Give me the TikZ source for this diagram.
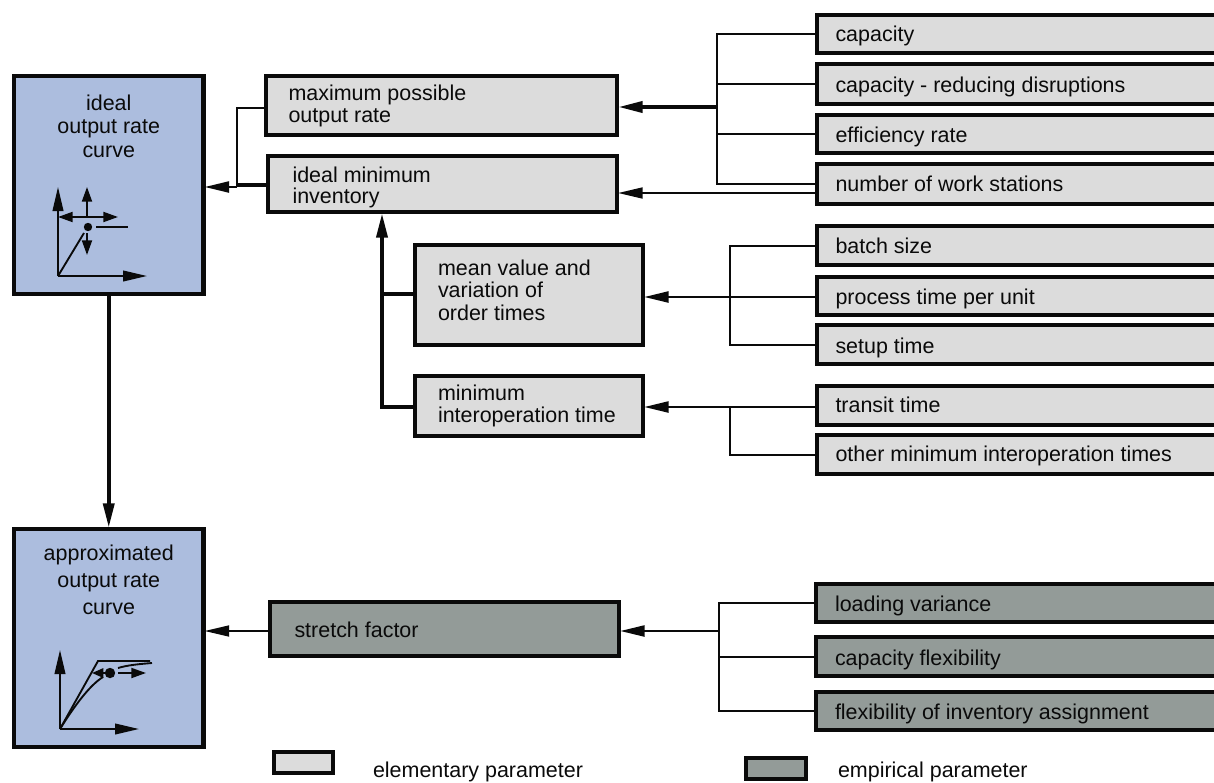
\documentclass[tikz,border=0pt]{standalone}
\usepackage{fontspec}
\setmainfont{Liberation Sans}
\usetikzlibrary{arrows.meta,calc}
\definecolor{idealblue}{HTML}{ACBDDE}
\definecolor{elemgray}{HTML}{DCDCDC}
\definecolor{empgray}{HTML}{939B98}
\definecolor{inkblack}{HTML}{0A0A0A}
% text block: width(px), space above(px), space below(px), alignment, text
\newcommand\tb[5]{\vbox{\hsize=\dimexpr #1pt*3/4\relax\parindent=0pt #4
  \vskip\dimexpr (#2pt+8pt)*3/4\relax
  \strut #5\strut\par\vskip\dimexpr #3pt*3/4\relax}}
\tikzset{
  pos/.style n args={4}{minimum width={(#3-#1)*0.75pt},minimum height={(#4-#2)*0.75pt},
     at={({(#1+#3)/2},{(#2+#4)/2})}},
  basebox/.style={draw=inkblack,rectangle,inner sep=0pt,outer sep=0pt,text=inkblack,
     font=\fontsize{16.1}{17.5}\selectfont},
  curvebox/.style={basebox,fill=idealblue,line width=3.6pt},
  elembox/.style={basebox,fill=elemgray,line width=3pt},
  empbox/.style={basebox,fill=empgray,line width=3pt},
  lbl/.style={inner sep=0pt,outer sep=0pt,text=inkblack,anchor=base west,
     font=\fontsize{16.1}{17.5}\selectfont},
  thinline/.style={draw=inkblack,line width=1.5pt},
  midline/.style={draw=inkblack,line width=2pt},
  heavyline/.style={draw=inkblack,line width=3pt},
  bigtip/.style={-{Triangle[length=18.5pt,width=8.2pt]},shorten >=0.8pt},
  icon/.style={draw=inkblack,line width=1.4pt},
  iconbig/.style={-{Triangle[length=18pt,width=8pt]}},
  iconsmall/.style={-{Triangle[length=11pt,width=7.5pt]}},
  icontiny/.style={-{Triangle[length=8.5pt,width=7pt]}},
}
\begin{document}
\begin{tikzpicture}[x=0.75pt,y=-0.75pt]
\useasboundingbox (0,0) rectangle (1214,782);
\clip (0,0) rectangle (1214,782);
% curve boxes
\node[curvebox,pos={14}{76}{203.5}{294}] (ideal) {\tb{189}{0}{120}{\centering}{ideal\\output rate\\curve}};
\node[curvebox,pos={14}{529}{203.5}{747}] (approx) {\tb{189}{0}{118}{\centering}{approximated\\[2.6pt]output rate\\[2.6pt]curve}};
% middle boxes
\node[elembox,pos={266}{76}{617}{135}] (maxrate) {\tb{306}{0}{6}{\raggedright}{maximum possible\\[-1pt]output rate}};
\node[elembox,pos={268}{156}{617}{212}] (minv) {\tb{300}{0}{0}{\raggedright}{ideal minimum\\[-1.5pt]inventory}};
\node[elembox,pos={415}{245}{643}{345}] (meanv) {\tb{182}{0}{12}{\raggedright}{mean value and\\[-0.5pt]variation of\\[-0.5pt]order times}};
\node[elembox,pos={415}{377}{643}{435}] (minop) {\tb{182}{0}{7}{\raggedright}{minimum\\[-1pt]interoperation time}};
\node[empbox,pos={270}{602}{619}{656}] (stretch) {\tb{300}{0}{0}{\raggedright}{stretch factor}};
% right boxes
\node[elembox,pos={817}{15}{1240}{53}] (cap) {\tb{386}{0}{2}{\raggedright}{capacity}};
\node[elembox,pos={817}{64}{1240}{104}] (capred) {\tb{386}{0}{0}{\raggedright}{capacity - reducing disruptions}};
\node[elembox,pos={817}{115}{1240}{153}] (eff) {\tb{386}{0}{0}{\raggedright}{efficiency rate}};
\node[elembox,pos={817}{164}{1240}{204}] (num) {\tb{386}{0}{2}{\raggedright}{number of work stations}};
\node[elembox,pos={817}{226}{1240}{265}] (batch) {\tb{386}{0}{2}{\raggedright}{batch size}};
\node[elembox,pos={817}{277}{1240}{315}] (proc) {\tb{386}{0}{0}{\raggedright}{process time per unit}};
\node[elembox,pos={817}{325}{1240}{364}] (setup) {\tb{386}{0}{0}{\raggedright}{setup time}};
\node[elembox,pos={817}{386}{1240}{425}] (transit) {\tb{386}{0}{4}{\raggedright}{transit time}};
\node[elembox,pos={817}{435}{1240}{474}] (other) {\tb{386}{0}{4}{\raggedright}{other minimum interoperation times}};
\node[empbox,pos={816}{584}{1240}{622}] (load) {\tb{386}{0}{0}{\raggedright}{loading variance}};
\node[empbox,pos={816}{637}{1240}{676}] (capflex) {\tb{386}{0}{0}{\raggedright}{capacity flexibility}};
\node[empbox,pos={816}{692}{1240}{730}] (invflex) {\tb{386}{0}{0}{\raggedright}{flexibility of inventory assignment}};
% legend
\node[elembox,pos={274}{752}{333}{773}] (legA) {};
\node[empbox,pos={746}{758}{806}{779}] (legB) {};
\node[lbl] (legAt) at (373,777) {elementary parameter};
\node[lbl] (legBt) at (838,777) {empirical parameter};
% coordinates of junctions
\coordinate (busTop) at (717,107);
\coordinate (busNum) at (700,193);
\coordinate (busMean) at (730,297);
\coordinate (busOp) at (730,407);
\coordinate (busLow) at (719,631);
\coordinate (joinIdeal) at (237,187);
\coordinate (joinIdealB) at (238,185);
\coordinate (upBus) at (382,294);
\coordinate (upBot) at (382,407);
\coordinate (upTop) at (382,240);
\coordinate (maxExit) at (264,108);
% connectors
\draw[thinline] (cap.west) -| (busTop);
\draw[thinline] (capred.west) -| (busTop);
\draw[thinline] (eff.west) -| (busTop);
\draw[thinline] (num.west) -| (busTop);
\draw[heavyline,bigtip] (busTop) -- (maxrate.east |- busTop);
\draw[thinline,bigtip] (num.west |- busNum) -- (minv.east |- busNum);
\draw[thinline] (batch.west) -| (busMean);
\draw[thinline] (setup.west) -| (busMean);
\draw[midline,bigtip] (proc.west |- busMean) -- (meanv.east |- busMean);
\draw[midline,bigtip] (transit.west |- busOp) -- (minop.east |- busOp);
\draw[thinline] (other.west) -| (busOp);
\draw[thinline] (load.west) -| (busLow);
\draw[thinline] (capflex.west) -| (busLow);
\draw[thinline] (invflex.west) -| (busLow);
\draw[midline,bigtip] (busLow) -- (stretch.east |- busLow);
\draw[thinline,bigtip] (stretch.west |- busLow) -- (approx.east |- busLow);
\draw[thinline] (maxExit) -| (joinIdeal);
\draw[heavyline] (minv.west |- joinIdealB) -- (joinIdealB);
\draw[midline,bigtip] (joinIdeal) -- (ideal.east |- joinIdeal);
\draw[heavyline,line width=3.4pt] (meanv.west |- upBus) -- (upBus);
\draw[heavyline] (minop.west |- upBot) -- (upBot) -- (upTop);
\draw[heavyline,bigtip] (upBot) -- (minv.south -| upBot);
\draw[heavyline,bigtip] (ideal.south) -- (approx.north);
% icon: ideal output rate curve
\begin{scope}
\draw[icon,iconbig] (58,276) -- (58,187);
\draw[icon,iconbig] (58,276) -- (147,276);
\draw[icon] (58,276) -- (84,233);
\fill[inkblack] (88,227) circle (4.2);
\draw[icon] (96,227) -- (128,227);
\draw[icon,iconsmall] (87,217) -- (87,187);
\draw[icon,iconsmall] (87,233) -- (87,255);
\draw[icon,iconsmall] (88,217) -- (118,217);
\draw[icon,iconsmall] (88,217) -- (58,217);
\end{scope}
% icon: approximated output rate curve
\begin{scope}
\draw[icon,iconbig] (60,729) -- (60,650);
\draw[icon,iconbig] (60,729) -- (139,729);
\draw[icon] (60,729) -- (98,661) -- (150,661);
\draw[icon] (60,729) .. controls (75,705) and (90,685) .. (103,677);
\draw[icon] (118,668) .. controls (128,665) and (140,664) .. (152,663);
\fill[inkblack] (110,673) circle (5.2);
\draw[icon,icontiny] (105,673) -- (92,673);
\draw[icon,iconsmall] (118,673) -- (146,673);
\end{scope}
\end{tikzpicture}
\end{document}
